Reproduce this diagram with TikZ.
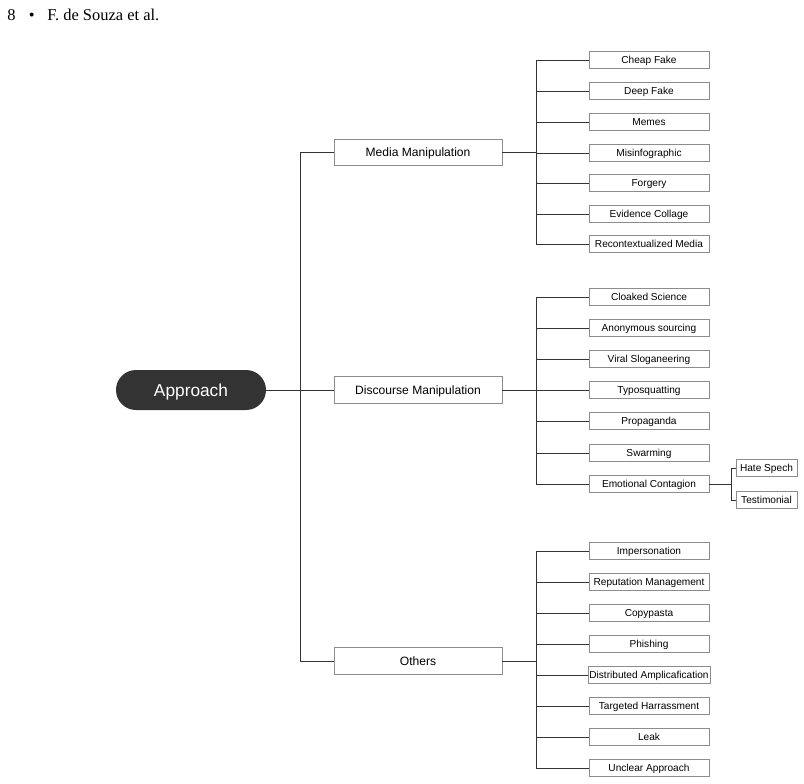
\documentclass[tikz,border=0pt]{standalone}
\usepackage{fontspec}
\setmainfont{Liberation Serif}
\setsansfont{Liberation Sans}

\definecolor{rootfill}{HTML}{333333}
\definecolor{boxline}{HTML}{8C8C8C}
\definecolor{linkline}{HTML}{333333}

\begin{document}
\begin{tikzpicture}[
    x=0.025cm, y=-0.025cm,
    root/.style={fill=rootfill, rounded corners=0.5cm, minimum width=3.75cm,
                 minimum height=1cm, text=white, text depth=0pt,
                 font=\sffamily\fontsize{12.3}{14}\selectfont},
    group/.style={draw=boxline, line width=0.5pt, minimum width=4.2cm,
                  minimum height=0.66cm, inner sep=1pt, text depth=0pt,
                  font=\sffamily\fontsize{8.6}{10}\selectfont},
    leaf/.style={draw=boxline, line width=0.5pt, minimum width=3cm,
                 minimum height=0.43cm, inner sep=1pt, text depth=0pt,
                 font=\sffamily\fontsize{7.2}{8.5}\selectfont},
    subleaf/.style={leaf, minimum width=1.52cm},
    link/.style={draw=linkline, line width=0.6pt},
]
    \useasboundingbox (0,0) rectangle (804,784);

    % running header
    \node[anchor=west, inner sep=0pt, font=\fontsize{11.7}{13}\selectfont] (header) at (7,15)
        {8\hspace{9.5pt}\textbullet\hspace{9pt}F. de Souza et al.};

    % root and groups
    \node[root] (approach) at (191,390) {Approach};
    \node[group] (media) at (418,152.5) {Media Manipulation};
    \node[group] (discourse) at (418,390) {Discourse Manipulation};
    \node[group] (others) at (418,661) {Others};

    \coordinate (trunk) at (300,390);
    \draw[link] (approach) -- (trunk);
    \draw[link] (trunk |- media) -- (trunk |- others);
    \draw[link] (trunk |- media) -- (media);
    \draw[link] (trunk |- others) -- (others);
    \draw[link] (trunk) -- (discourse);

    % media manipulation
    \node[leaf] (cheap) at (649,60) {Cheap Fake};
    \node[leaf] (deep) at (649,91) {Deep Fake};
    \node[leaf] (memes) at (649,122) {Memes};
    \node[leaf] (misinfo) at (649,153) {Misinfographic};
    \node[leaf] (forgery) at (649,183) {Forgery};
    \node[leaf] (collage) at (649,214) {Evidence Collage};
    \node[leaf] (recontext) at (649,244) {Recontextualized Media};

    \coordinate (mediafork) at (536,152.5);
    \draw[link] (media) -- (mediafork);
    \draw[link] (mediafork |- cheap) -- (mediafork |- recontext);
    \draw[link] (mediafork |- cheap) -- (cheap);
    \draw[link] (mediafork |- deep) -- (deep);
    \draw[link] (mediafork |- memes) -- (memes);
    \draw[link] (mediafork |- misinfo) -- (misinfo);
    \draw[link] (mediafork |- forgery) -- (forgery);
    \draw[link] (mediafork |- collage) -- (collage);
    \draw[link] (mediafork |- recontext) -- (recontext);

    % discourse manipulation
    \node[leaf] (cloaked) at (649,297) {Cloaked Science};
    \node[leaf] (anonymous) at (649,328) {Anonymous sourcing};
    \node[leaf] (viral) at (649,359) {Viral Sloganeering};
    \node[leaf] (typo) at (649,390) {Typosquatting};
    \node[leaf] (propaganda) at (649,421) {Propaganda};
    \node[leaf] (swarming) at (649,453) {Swarming};
    \node[leaf] (emotional) at (649,484) {Emotional Contagion};

    \coordinate (discoursefork) at (536,390);
    \draw[link] (discourse) -- (discoursefork);
    \draw[link] (discoursefork |- cloaked) -- (discoursefork |- emotional);
    \draw[link] (discoursefork |- cloaked) -- (cloaked);
    \draw[link] (discoursefork |- anonymous) -- (anonymous);
    \draw[link] (discoursefork |- viral) -- (viral);
    \draw[link] (discoursefork) -- (typo);
    \draw[link] (discoursefork |- propaganda) -- (propaganda);
    \draw[link] (discoursefork |- swarming) -- (swarming);
    \draw[link] (discoursefork |- emotional) -- (emotional);

    \node[subleaf] (hate) at (766.5,468) {Hate Spech};
    \node[subleaf] (testimonial) at (766.5,500) {Testimonial};

    \coordinate (emotionalfork) at (731,484);
    \draw[link] (emotional) -- (emotionalfork);
    \draw[link] (emotionalfork |- hate) -- (emotionalfork |- testimonial);
    \draw[link] (emotionalfork |- hate) -- (hate);
    \draw[link] (emotionalfork |- testimonial) -- (testimonial);

    % others
    \node[leaf] (impersonation) at (649,551) {Impersonation};
    \node[leaf] (reputation) at (649,582) {Reputation Management};
    \node[leaf] (copypasta) at (649,613) {Copypasta};
    \node[leaf] (phishing) at (649,644) {Phishing};
    \node[leaf] (amplification) at (649,675) {Distributed Amplicafication};
    \node[leaf] (harrassment) at (649,706) {Targeted Harrassment};
    \node[leaf] (leak) at (649,737) {Leak};
    \node[leaf] (unclear) at (649,768) {Unclear Approach};

    \coordinate (othersfork) at (536,661);
    \draw[link] (others) -- (othersfork);
    \draw[link] (othersfork |- impersonation) -- (othersfork |- unclear);
    \draw[link] (othersfork |- impersonation) -- (impersonation);
    \draw[link] (othersfork |- reputation) -- (reputation);
    \draw[link] (othersfork |- copypasta) -- (copypasta);
    \draw[link] (othersfork |- phishing) -- (phishing);
    \draw[link] (othersfork |- amplification) -- (amplification);
    \draw[link] (othersfork |- harrassment) -- (harrassment);
    \draw[link] (othersfork |- leak) -- (leak);
    \draw[link] (othersfork |- unclear) -- (unclear);

\end{tikzpicture}
\end{document}
